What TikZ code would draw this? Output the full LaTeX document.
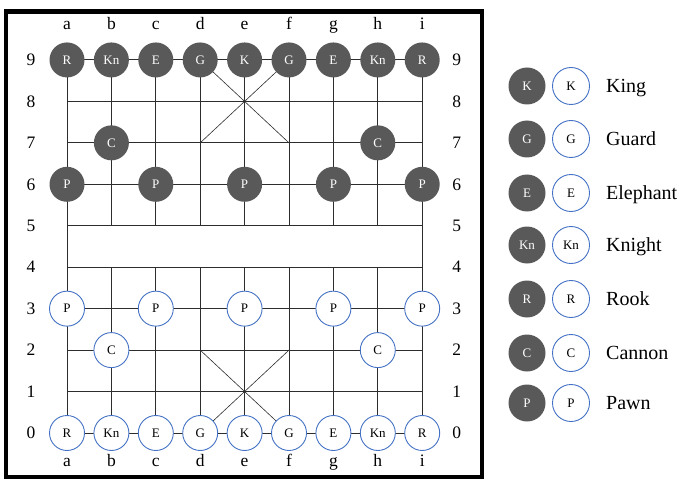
\documentclass[tikz,border=0pt]{standalone}
\usepackage{fontspec}
\setmainfont{Liberation Serif}
\definecolor{darkpiece}{RGB}{89,89,89}
\definecolor{lightedge}{RGB}{68,114,196}
\definecolor{gridline}{RGB}{45,45,45}

\begin{document}
\begin{tikzpicture}[x=1pt,y=1pt,
  gridln/.style={gridline,line width=0.9pt},
  palace/.style={gridline,line width=0.6pt},
  darkpc/.style={circle,fill=darkpiece,text=white,minimum size=35pt,inner sep=0pt,
    font=\fontsize{13}{13}\selectfont},
  lightpc/.style={circle,draw=lightedge,fill=white,line width=0.9pt,minimum size=35pt,
    inner sep=0pt,font=\fontsize{13}{13}\selectfont},
  boardlbl/.style={font=\fontsize{17.5}{17.5}\selectfont,inner sep=0pt},
  collbl/.style={boardlbl,text height=12pt,text depth=4pt},
  keytext/.style={font=\fontsize{20}{20}\selectfont,inner sep=0pt,anchor=base west}]
  \useasboundingbox (0,0) rectangle (682,480);
  % frame
  \draw[line width=4.5pt] (6,3) rectangle (482,468.5);
  \begin{scope}[shift={(67pt,47pt)},x=44.4pt,y=41.45pt]
    % grid
    \foreach \r in {0,...,9}
      \draw[gridln] (0,\r) -- (8,\r);
    \draw[gridln] (0,0) -- (0,9) (8,0) -- (8,9);
    \foreach \c in {1,...,7}
      \draw[gridln] (\c,0) -- (\c,4) (\c,5) -- (\c,9);
    % palaces
    \draw[palace] (3,9) -- (5,7) (5,9) -- (3,7);
    \draw[palace] (3,0) -- (5,2) (5,0) -- (3,2);
    % labels
    \foreach \l [count=\i from 0] in {a,b,c,d,e,f,g,h,i}{
      \node[collbl] (top-\l) at (\i,9.82) {\l};
      \node[collbl] (bot-\l) at (\i,-0.72) {\l};
    }
    \foreach \r in {0,...,9}{
      \node[boardlbl] (lft-\r) at (-0.81,\r) {\r};
      \node[boardlbl] (rgt-\r) at (8.78,\r) {\r};
    }
    % pieces
    \foreach \c/\r/\t in {0/9/R,1/9/Kn,2/9/E,3/9/G,4/9/K,5/9/G,6/9/E,7/9/Kn,8/9/R,
                          1/7/C,7/7/C,0/6/P,2/6/P,4/6/P,6/6/P,8/6/P}
      \node[darkpc] (dk-\c-\r) at (\c,\r) {\t};
    \foreach \c/\r/\t in {0/0/R,1/0/Kn,2/0/E,3/0/G,4/0/K,5/0/G,6/0/E,7/0/Kn,8/0/R,
                          1/2/C,7/2/C,0/3/P,2/3/P,4/3/P,6/3/P,8/3/P}
      \node[lightpc] (lt-\c-\r) at (\c,\r) {\t};
  \end{scope}
  % key
  \foreach \t/\n/\y in {K/King/394,G/Guard/341,E/Elephant/287,Kn/Knight/235,
                        R/Rook/181,C/Cannon/127,P/Pawn/77}{
    \node[darkpc,minimum size=37pt] (keyd-\t) at (527,\y) {\t};
    \node[lightpc,minimum size=37pt] (keyl-\t) at (571,\y) {\t};
    \node[keytext] (keyt-\t) at (606,\y-6.6) {\n};
  }
\end{tikzpicture}
\end{document}
